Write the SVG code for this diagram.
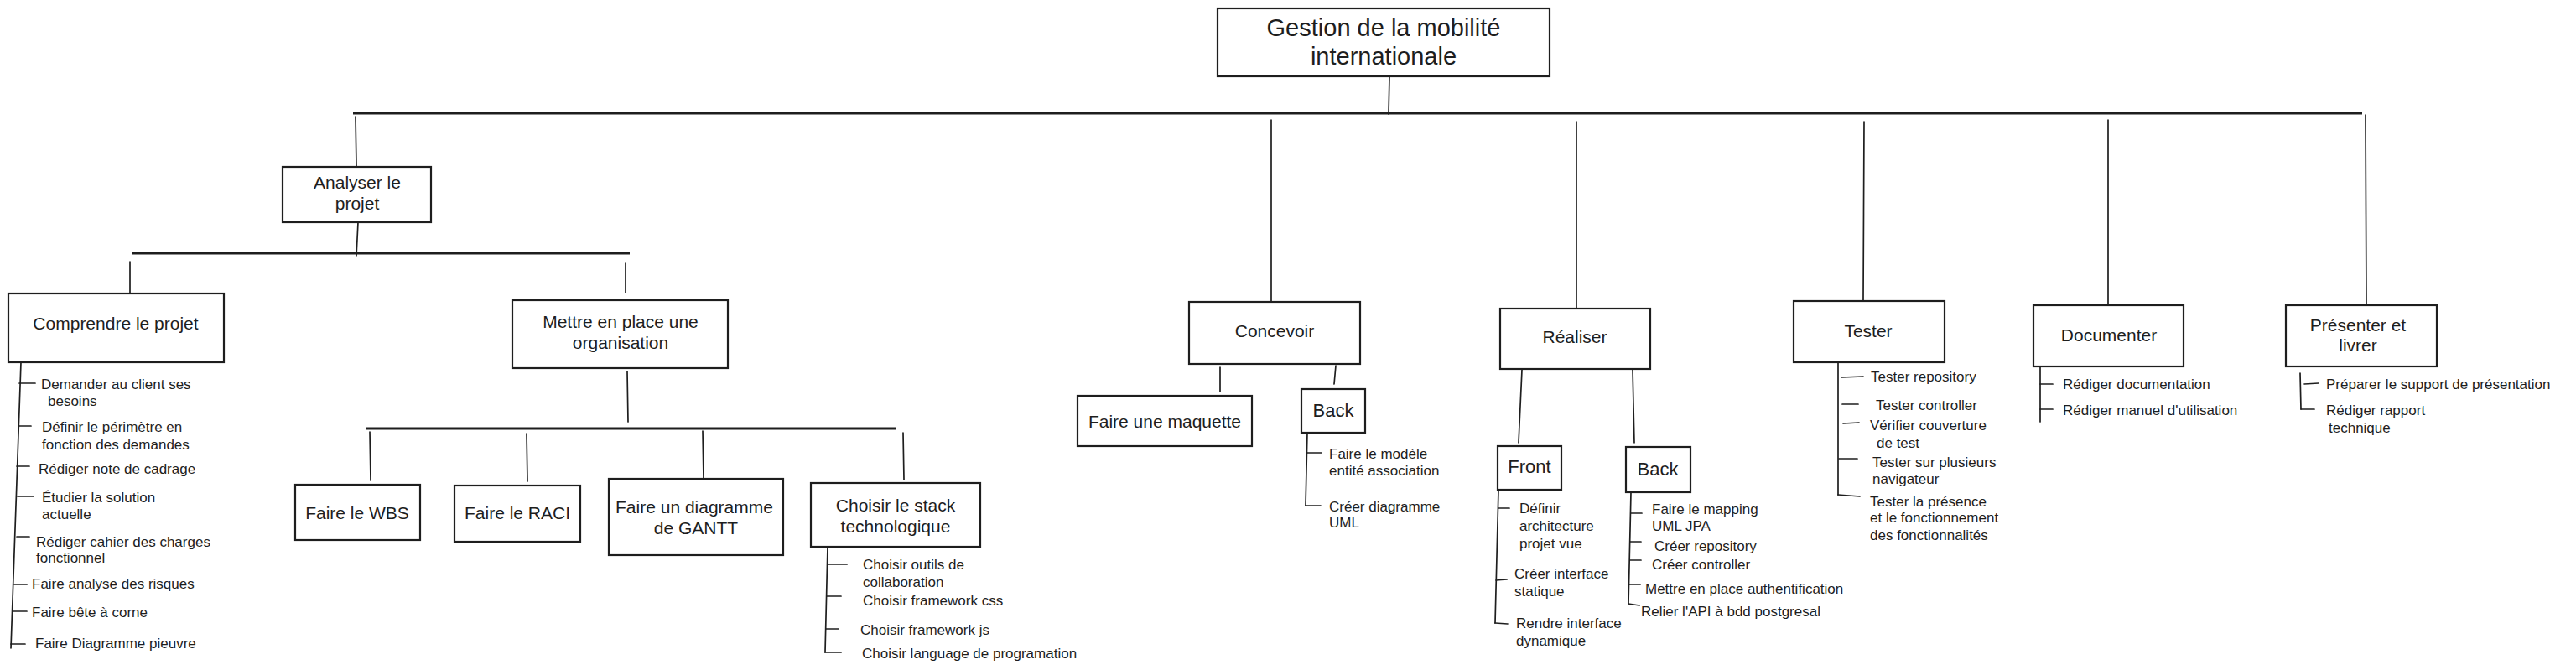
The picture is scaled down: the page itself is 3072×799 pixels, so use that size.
<svg xmlns="http://www.w3.org/2000/svg" width="3072" height="799" viewBox="0 0 3072 799">
<style>
.bg{fill:#ffffff}
.box{fill:#ffffff;stroke:#1e1e1e;stroke-width:2.2}
.ln{stroke:#1e1e1e;stroke-width:1.7;fill:none;stroke-linecap:round}
.bar{stroke:#1e1e1e;stroke-width:2.8;fill:none}
.t{font-family:"Liberation Sans",Arial,sans-serif;fill:#1e1e1e}
.ttl{font-size:29px;text-anchor:middle}
.lbl{font-size:21px;text-anchor:middle}
.big{font-size:22px;text-anchor:middle}
.item{font-size:17px}
</style>
<rect class="bg" x="0" y="0" width="3072" height="799"/>

<g id="connectors">
  <!-- root -->
  <path class="ln" d="M1657 91 L1656 136"/>
  <path class="bar" d="M421 135 L2817 135"/>
  <path class="ln" d="M424 139 L425 198"/>
  <path class="ln" d="M1516 143 L1516 360"/>
  <path class="ln" d="M1880 145 L1880 367"/>
  <path class="ln" d="M2223 145 L2222 359"/>
  <path class="ln" d="M2514 143 L2514 364"/>
  <path class="ln" d="M2821 137 L2822 362"/>
  <!-- Analyser -->
  <path class="ln" d="M427 265 L425 305"/>
  <path class="bar" d="M157 302 L751 302"/>
  <path class="ln" d="M155 312 L155 349"/>
  <path class="ln" d="M746 314 L746 349"/>
  <!-- Comprendre list -->
  <path class="ln" d="M25 432 L13 773"/>
  <path class="ln" d="M23 457 L42 457"/>
  <path class="ln" d="M22 508 L37 508"/>
  <path class="ln" d="M20 556 L35 556"/>
  <path class="ln" d="M21 592 L40 592"/>
  <path class="ln" d="M20 640 L35 640"/>
  <path class="ln" d="M17 697 L32 697"/>
  <path class="ln" d="M16 729 L32 729"/>
  <path class="ln" d="M13 768 L30 768"/>
  <!-- Mettre en place -->
  <path class="ln" d="M748 443 L749 503"/>
  <path class="bar" d="M436 511 L1069 511"/>
  <path class="ln" d="M441 515 L442 573"/>
  <path class="ln" d="M628 517 L629 574"/>
  <path class="ln" d="M838 514 L839 571"/>
  <path class="ln" d="M1077 516 L1078 572"/>
  <!-- Stack list -->
  <path class="ln" d="M987 652 L984 778"/>
  <path class="ln" d="M987 673 L1010 673"/>
  <path class="ln" d="M986 711 L1003 711"/>
  <path class="ln" d="M985 750 L1000 750"/>
  <path class="ln" d="M984 778 L1003 778"/>
  <!-- Concevoir -->
  <path class="ln" d="M1455 438 L1455 467"/>
  <path class="ln" d="M1593 436 L1591 458"/>
  <path class="ln" d="M1559 516 L1557 603"/>
  <path class="ln" d="M1558 540 L1576 540"/>
  <path class="ln" d="M1557 603 L1575 603"/>
  <!-- Realiser -->
  <path class="ln" d="M1815 441 L1811 528"/>
  <path class="ln" d="M1947 440 L1949 528"/>
  <path class="ln" d="M1787 584 L1783 743"/>
  <path class="ln" d="M1787 606 L1800 606"/>
  <path class="ln" d="M1784 692 L1797 691"/>
  <path class="ln" d="M1783 743 L1798 744"/>
  <path class="ln" d="M1945 587 L1942 720"/>
  <path class="ln" d="M1945 612 L1958 612"/>
  <path class="ln" d="M1944 646 L1957 646"/>
  <path class="ln" d="M1944 668 L1957 668"/>
  <path class="ln" d="M1943 697 L1956 697"/>
  <path class="ln" d="M1942 720 L1955 722"/>
  <!-- Tester -->
  <path class="ln" d="M2192 432 L2192 590"/>
  <path class="ln" d="M2196 450 L2222 449"/>
  <path class="ln" d="M2197 482 L2216 482"/>
  <path class="ln" d="M2198 505 L2217 504"/>
  <path class="ln" d="M2193 547 L2215 547"/>
  <path class="ln" d="M2192 590 L2218 592"/>
  <!-- Documenter -->
  <path class="ln" d="M2433 437 L2433 503"/>
  <path class="ln" d="M2433 458 L2448 458"/>
  <path class="ln" d="M2433 488 L2448 488"/>
  <!-- Presenter -->
  <path class="ln" d="M2743 445 L2744 488"/>
  <path class="ln" d="M2748 458 L2765 457"/>
  <path class="ln" d="M2744 488 L2760 488"/>
</g>

<g id="root">
  <rect class="box" x="1452" y="10" width="396" height="81"/>
  <text class="t ttl" x="1650" y="43">Gestion de la mobilité</text>
  <text class="t ttl" x="1650" y="77">internationale</text>
</g>

<g id="analyser">
  <rect class="box" x="337" y="199" width="177" height="66"/>
  <text class="t lbl" x="426" y="225">Analyser le</text>
  <text class="t lbl" x="426" y="250">projet</text>
</g>

<g id="comprendre">
  <rect class="box" x="10" y="350" width="257" height="82"/>
  <text class="t lbl" x="138" y="393">Comprendre le projet</text>
</g>
<g id="comprendre-tasks" class="t item">
  <text x="49" y="464">Demander au client ses</text>
  <text x="57" y="484">besoins</text>
  <text x="50" y="515">Définir le périmètre en</text>
  <text x="50" y="536">fonction des demandes</text>
  <text x="46" y="565">Rédiger note de cadrage</text>
  <text x="50" y="599">Étudier la solution</text>
  <text x="50" y="619">actuelle</text>
  <text x="43" y="652">Rédiger cahier des charges</text>
  <text x="43" y="671">fonctionnel</text>
  <text x="38" y="702">Faire analyse des risques</text>
  <text x="38" y="736">Faire bête à corne</text>
  <text x="42" y="773">Faire Diagramme pieuvre</text>
</g>

<g id="organisation">
  <rect class="box" x="611" y="358" width="257" height="81"/>
  <text class="t lbl" x="740" y="391">Mettre en place une</text>
  <text class="t lbl" x="740" y="416">organisation</text>
</g>
<g id="wbs">
  <rect class="box" x="352" y="578" width="149" height="66"/>
  <text class="t lbl" x="426" y="619">Faire le WBS</text>
</g>
<g id="raci">
  <rect class="box" x="542" y="579" width="150" height="67"/>
  <text class="t lbl" x="617" y="619">Faire le RACI</text>
</g>
<g id="gantt">
  <rect class="box" x="726" y="571" width="208" height="91"/>
  <text class="t lbl" x="828" y="612">Faire un diagramme</text>
  <text class="t lbl" x="830" y="637">de GANTT</text>
</g>
<g id="stack">
  <rect class="box" x="967" y="576" width="202" height="76"/>
  <text class="t lbl" x="1068" y="610">Choisir le stack</text>
  <text class="t lbl" x="1068" y="635">technologique</text>
</g>
<g id="stack-tasks" class="t item">
  <text x="1029" y="679">Choisir outils de</text>
  <text x="1029" y="700">collaboration</text>
  <text x="1029" y="722">Choisir framework css</text>
  <text x="1026" y="757">Choisir framework js</text>
  <text x="1028" y="785">Choisir language de programation</text>
</g>

<g id="concevoir">
  <rect class="box" x="1418" y="360" width="204" height="74"/>
  <text class="t lbl" x="1520" y="402">Concevoir</text>
</g>
<g id="maquette">
  <rect class="box" x="1285" y="472" width="208" height="60"/>
  <text class="t lbl" x="1389" y="510">Faire une maquette</text>
</g>
<g id="concevoir-back">
  <rect class="box" x="1552" y="464" width="76" height="52"/>
  <text class="t big" x="1590" y="497">Back</text>
</g>
<g id="concevoir-back-tasks" class="t item">
  <text x="1585" y="547">Faire le modèle</text>
  <text x="1585" y="567">entité association</text>
  <text x="1585" y="610">Créer diagramme</text>
  <text x="1585" y="629">UML</text>
</g>

<g id="realiser">
  <rect class="box" x="1789" y="368" width="179" height="72"/>
  <text class="t lbl" x="1878" y="409">Réaliser</text>
</g>
<g id="front">
  <rect class="box" x="1786" y="532" width="76" height="52"/>
  <text class="t big" x="1824" y="564">Front</text>
</g>
<g id="front-tasks" class="t item">
  <text x="1812" y="612">Définir</text>
  <text x="1812" y="633">architecture</text>
  <text x="1812" y="654">projet vue</text>
  <text x="1806" y="690">Créer interface</text>
  <text x="1806" y="711">statique</text>
  <text x="1808" y="749">Rendre interface</text>
  <text x="1808" y="770">dynamique</text>
</g>
<g id="realiser-back">
  <rect class="box" x="1939" y="533" width="77" height="54"/>
  <text class="t big" x="1977" y="567">Back</text>
</g>
<g id="realiser-back-tasks" class="t item">
  <text x="1970" y="613">Faire le mapping</text>
  <text x="1970" y="633">UML JPA</text>
  <text x="1973" y="657">Créer repository</text>
  <text x="1970" y="679">Créer controller</text>
  <text x="1962" y="708">Mettre en place authentification</text>
  <text x="1957" y="735">Relier l'API à bdd postgresal</text>
</g>

<g id="tester">
  <rect class="box" x="2139" y="359" width="180" height="73"/>
  <text class="t lbl" x="2228" y="402">Tester</text>
</g>
<g id="tester-tasks" class="t item">
  <text x="2231" y="455">Tester repository</text>
  <text x="2237" y="489">Tester controller</text>
  <text x="2230" y="513">Vérifier couverture</text>
  <text x="2238" y="534">de test</text>
  <text x="2233" y="557">Tester sur plusieurs</text>
  <text x="2233" y="577">navigateur</text>
  <text x="2230" y="604">Tester la présence</text>
  <text x="2230" y="623">et le fonctionnement</text>
  <text x="2230" y="644">des fonctionnalités</text>
</g>

<g id="documenter">
  <rect class="box" x="2425" y="364" width="179" height="73"/>
  <text class="t lbl" x="2515" y="407">Documenter</text>
</g>
<g id="documenter-tasks" class="t item">
  <text x="2460" y="464">Rédiger documentation</text>
  <text x="2460" y="495">Rédiger manuel d'utilisation</text>
</g>

<g id="presenter">
  <rect class="box" x="2726" y="364" width="180" height="73"/>
  <text class="t lbl" x="2812" y="395">Présenter et</text>
  <text class="t lbl" x="2812" y="419">livrer</text>
</g>
<g id="presenter-tasks" class="t item">
  <text x="2774" y="464">Préparer le support de présentation</text>
  <text x="2774" y="495">Rédiger rapport</text>
  <text x="2777" y="516">technique</text>
</g>
</svg>
